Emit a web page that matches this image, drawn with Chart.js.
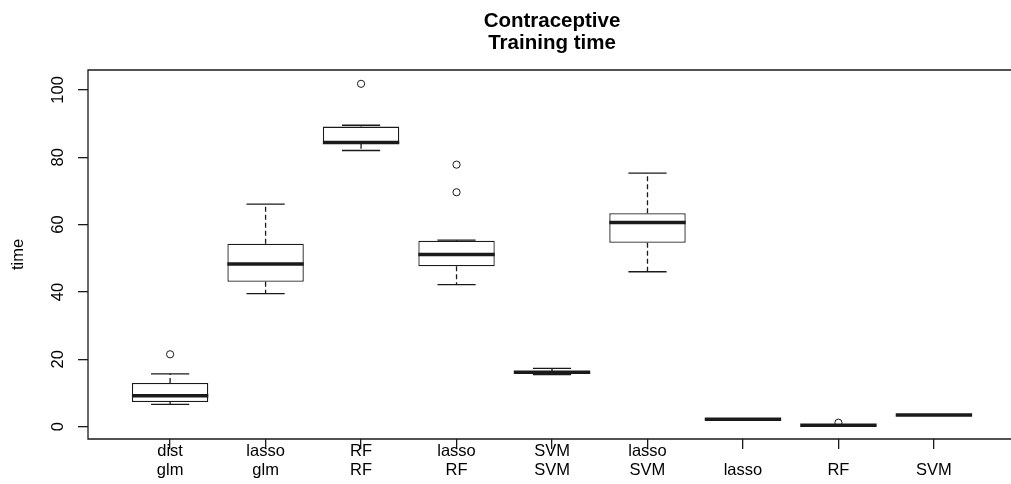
<!DOCTYPE html>
<html>
<head>
<meta charset="utf-8">
<script src="https://cdn.jsdelivr.net/npm/chart.js@4/dist/chart.umd.min.js"></script>
<style>
  html, body { margin: 0; padding: 0; background: #fff; overflow: hidden; }
</style>
</head>
<body>
<canvas id="box-chart" width="1011" height="484"></canvas>
<script>
// category labels, two lines each (one-line labels sit on the lower line)
var categories = [
  ['dist', 'glm'], ['lasso', 'glm'], ['RF', 'RF'], ['lasso', 'RF'], ['SVM', 'SVM'],
  ['lasso', 'SVM'], ['', 'lasso'], ['', 'RF'], ['', 'SVM']
];
// box statistics
var lowWhisker  = [6.6, 39.5, 82.0, 42.2, 15.5, 46.0, 2.1, 0.3, 3.4];
var lowerQ      = [7.3, 43.0, 84.0, 47.6, 15.9, 54.6, 2.1, 0.35, 3.4];
var medians     = [9.2, 48.3, 84.4, 51.1, 16.2, 60.6, 2.2, 0.4, 3.5];
var upperQ      = [13.0, 54.3, 89.1, 55.2, 16.5, 63.4, 2.3, 0.5, 3.6];
var highWhisker = [15.7, 66.1, 89.5, 55.4, 17.3, 75.3, 2.3, 0.5, 3.6];
var outliers    = [[21.5], [], [101.8], [77.8, 69.6], [], [], [], [1.2], []];
var yTicks = [0, 20, 40, 60, 80, 100];

var titleLines = ['Contraceptive', 'Training time'];
var ink = '#1a1a1a';

var boxData = categories.map(function(c, i) {
  return { x: i + 1, y: [lowerQ[i], upperQ[i]] };
});
var outlierData = [];
outliers.forEach(function(list, i) {
  list.forEach(function(v) { outlierData.push({ x: i + 1, y: v }); });
});

function line(ctx, x1, y1, x2, y2) {
  ctx.beginPath();
  ctx.moveTo(x1, y1);
  ctx.lineTo(x2, y2);
  ctx.stroke();
}

// whiskers, caps, medians, frame, title and the rotated y labels
var boxPlot = {
  id: 'boxPlot',
  afterDatasetDraw: function(chart, args) {
    if (args.index !== 0) return;
    var ctx = chart.ctx, xs = chart.scales.x, ys = chart.scales.y;
    ctx.save();
    ctx.strokeStyle = ink;
    for (var i = 0; i < categories.length; i++) {
      var c = xs.getPixelForValue(i + 1);
      var capL = xs.getPixelForValue(i + 0.8), capR = xs.getPixelForValue(i + 1.2);
      var boxL = xs.getPixelForValue(i + 0.6), boxR = xs.getPixelForValue(i + 1.4);
      ctx.lineWidth = 1.3;
      ctx.setLineDash([5, 3]);
      line(ctx, c, ys.getPixelForValue(upperQ[i]), c, ys.getPixelForValue(highWhisker[i]));
      line(ctx, c, ys.getPixelForValue(lowerQ[i]), c, ys.getPixelForValue(lowWhisker[i]));
      ctx.setLineDash([]);
      line(ctx, capL, ys.getPixelForValue(highWhisker[i]), capR, ys.getPixelForValue(highWhisker[i]));
      line(ctx, capL, ys.getPixelForValue(lowWhisker[i]), capR, ys.getPixelForValue(lowWhisker[i]));
      ctx.lineWidth = 3.5;
      line(ctx, boxL, ys.getPixelForValue(medians[i]), boxR, ys.getPixelForValue(medians[i]));
    }
    ctx.restore();
  },
  afterDraw: function(chart) {
    var ctx = chart.ctx, a = chart.chartArea, xs = chart.scales.x, ys = chart.scales.y;
    ctx.save();
    // plot frame (right side falls outside the picture)
    ctx.strokeStyle = ink;
    ctx.lineWidth = 1.3;
    ctx.beginPath();
    ctx.moveTo(chart.width + 2, a.top);
    ctx.lineTo(a.left, a.top);
    ctx.lineTo(a.left, a.bottom);
    ctx.lineTo(chart.width + 2, a.bottom);
    ctx.stroke();

    ctx.fillStyle = '#000';
    // y tick labels, rotated like R's las=0
    ctx.font = '16.5px "Liberation Sans", Arial, sans-serif';
    ctx.textAlign = 'center';
    ctx.textBaseline = 'alphabetic';
    yTicks.forEach(function(v) {
      ctx.save();
      ctx.translate(63, ys.getPixelForValue(v));
      ctx.rotate(-Math.PI / 2);
      ctx.fillText(String(v), 0, 0);
      ctx.restore();
    });

    // main title centred over the plot region
    var cx = xs.getPixelForValue(5);
    ctx.font = 'bold 20.5px "Liberation Sans", Arial, sans-serif';
    ctx.fillText(titleLines[0], cx, 26.5);
    ctx.fillText(titleLines[1], cx, 48.5);
    ctx.restore();
  }
};

var ctx = document.getElementById('box-chart').getContext('2d');

var chart = new Chart(ctx, {
  type: 'bar',
  data: {
    datasets: [{
      label: 'box',
      data: boxData,
      backgroundColor: '#ffffff',
      borderColor: ink,
      borderWidth: 1.3,
      borderSkipped: false,
      barPercentage: 0.8,
      categoryPercentage: 1
    }, {
      type: 'scatter',
      label: 'outliers',
      data: outlierData,
      pointStyle: 'circle',
      pointRadius: 3.6,
      pointBorderWidth: 1,
      pointBorderColor: ink,
      pointBackgroundColor: 'rgba(0,0,0,0)',
      showLine: false
    }]
  },
  options: {
    responsive: false,
    animation: false,
    events: [],
    devicePixelRatio: 1,
    layout: { padding: { top: 70, bottom: 0, left: 0, right: 0 } },
    plugins: {
      legend: { display: false },
      title: { display: false },
      tooltip: { enabled: false }
    },
    scales: {
      x: {
        type: 'linear',
        min: 0.14,
        max: 9.755,
        offset: false,
        afterBuildTicks: function(scale) {
          scale.ticks = categories.map(function(c, i) { return { value: i + 1 }; });
        },
        ticks: {
          autoSkip: false,
          maxRotation: 0,
          minRotation: 0,
          padding: -7,
          color: '#000',
          font: { family: '"Liberation Sans", Arial, sans-serif', size: 16.5, lineHeight: '19px' },
          callback: function(value) { return categories[value - 1]; }
        },
        // empty title only reserves room so the second label line is not clipped
        title: { display: true, text: '', padding: 0, font: { size: 10, lineHeight: '11px' } },
        grid: { drawOnChartArea: false, offset: false, tickLength: 10, color: ink, lineWidth: 1.3 },
        border: { display: false }
      },
      y: {
        type: 'linear',
        min: -3.65,
        max: 105.9,
        afterBuildTicks: function(scale) {
          scale.ticks = yTicks.map(function(v) { return { value: v }; });
        },
        ticks: { display: false },
        grid: { drawOnChartArea: false, tickLength: 10, color: ink, lineWidth: 1.3 },
        border: { display: false },
        title: {
          display: true,
          text: 'time',
          color: '#000',
          font: { family: '"Liberation Sans", Arial, sans-serif', size: 16.5, lineHeight: '20px' },
          padding: { top: 8, bottom: 50 }
        }
      }
    }
  },
  plugins: [boxPlot]
});
</script>
</body>
</html>
